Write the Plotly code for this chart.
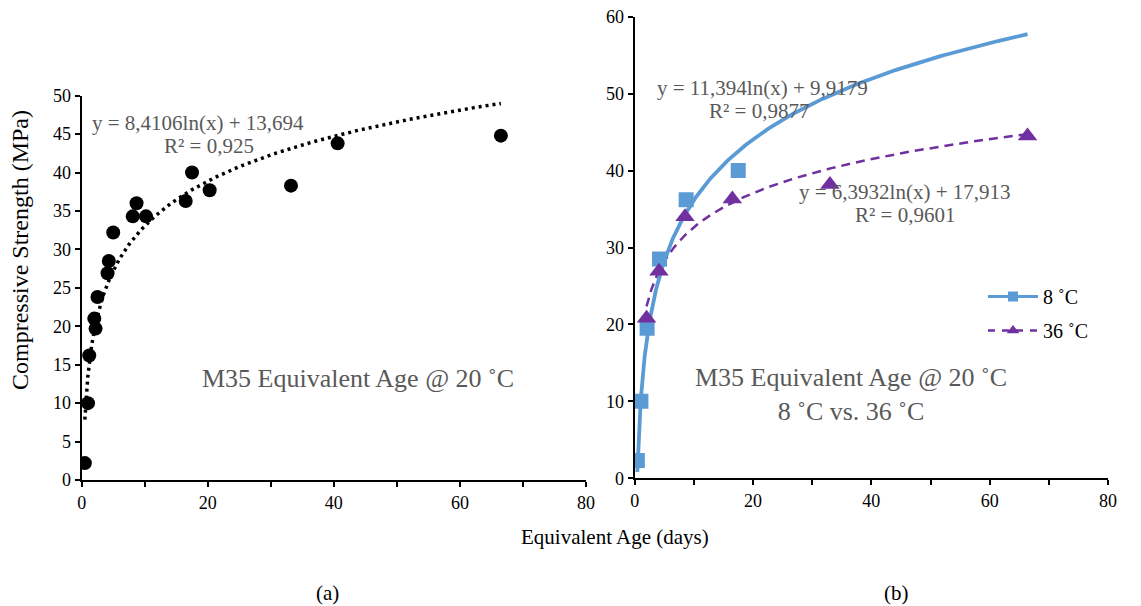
import numpy as np
import plotly.graph_objects as go

# ---------------- data ----------------
# (a) all specimens, equivalent age at 20 C
age_a = [0.5, 1.0, 1.2, 2.0, 2.2, 2.5, 4.1, 4.3, 5.0, 8.1, 8.7, 10.2, 16.5, 17.5, 20.3, 33.2, 40.6, 66.5]
strength_a = [2.2, 10.0, 16.2, 21.0, 19.7, 23.8, 26.9, 28.5, 32.2, 34.3, 36.0, 34.3, 36.3, 40.0, 37.7, 38.3, 43.8, 44.8]
trend_a = [8.4106, 13.694]      # y = a ln(x) + b
r2_a = "0,925"

# (b) 8 C and 36 C
age_8 = [0.45, 1.05, 2.1, 4.2, 8.7, 17.5]
strength_8 = [2.3, 10.0, 19.5, 28.5, 36.2, 40.0]
trend_8 = [11.394, 9.9179]
trend_8_end = 66.4
r2_8 = "0,9877"

age_36 = [2.0, 4.1, 8.5, 16.5, 33.0, 66.4]
strength_36 = [20.8, 26.9, 34.0, 36.3, 38.2, 44.5]
trend_36 = [6.3932, 17.913]
r2_36 = "0,9601"

x_ticks = [0, 20, 40, 60, 80]
y_ticks_a = list(range(0, 51, 5))
y_ticks_b = list(range(0, 61, 10))

# ---------------- styling ----------------
PAGE_W, PAGE_H, BODY_MARGIN = 1141, 606, 8
W, H = PAGE_W - BODY_MARGIN, PAGE_H - BODY_MARGIN
FONT = "Liberation Serif"
GRAY = "#595959"
BLUE = "#5B9BD5"
PURPLE = "#7030A0"


def px_x(p):
    return (p - BODY_MARGIN) / W


def px_y(p):
    return 1 - (p - BODY_MARGIN) / H


def log_curve(coef, x0, x1, n=300):
    xs = np.geomspace(x0, x1, n)
    return xs, coef[0] * np.log(xs) + coef[1]


def fmt(v):
    return str(v).replace(".", ",")


fig = go.Figure()

# (a) trendline
tx, ty = log_curve(trend_a, min(age_a), max(age_a))
fig.add_trace(go.Scatter(x=tx, y=ty, mode="lines", xaxis="x", yaxis="y",
                         line=dict(color="black", width=3.5, dash="3px,4px"),
                         showlegend=False, hoverinfo="skip"))
fig.add_trace(go.Scatter(x=age_a, y=strength_a, mode="markers", xaxis="x", yaxis="y",
                         marker=dict(color="black", size=14, symbol="circle"),
                         showlegend=False))

# (b) trendlines
tx8, ty8 = log_curve(trend_8, min(age_8), trend_8_end)
fig.add_trace(go.Scatter(x=tx8, y=ty8, mode="lines", xaxis="x2", yaxis="y2",
                         line=dict(color=BLUE, width=3.8),
                         showlegend=False, hoverinfo="skip"))
tx36, ty36 = log_curve(trend_36, min(age_36), max(age_36))
fig.add_trace(go.Scatter(x=tx36, y=ty36, mode="lines", xaxis="x2", yaxis="y2",
                         line=dict(color=PURPLE, width=2.5, dash="9px,6px"),
                         showlegend=False, hoverinfo="skip"))

# (b) markers
fig.add_trace(go.Scatter(x=age_8, y=strength_8, mode="markers", xaxis="x2", yaxis="y2",
                         name="8 ˚C",
                         marker=dict(color=BLUE, size=15, symbol="square"),
                         showlegend=False))
fig.add_trace(go.Scatter(x=age_36, y=strength_36, mode="markers", xaxis="x2", yaxis="y2",
                         name="36 ˚C",
                         marker=dict(color=PURPLE, size=17, symbol="triangle-up"),
                         showlegend=False))
# legend entries
fig.add_trace(go.Scatter(x=[None], y=[None], mode="lines+markers", xaxis="x2", yaxis="y2",
                         name="8 ˚C", legendgroup="g8", line=dict(color=BLUE, width=3),
                         marker=dict(color=BLUE, size=10, symbol="square")))
fig.add_trace(go.Scatter(x=[None], y=[None], mode="lines+markers", xaxis="x2", yaxis="y2",
                         name="36 ˚C", legendgroup="g36", line=dict(color=PURPLE, width=2.5, dash="7px,7px"),
                         marker=dict(color=PURPLE, size=11, symbol="triangle-up")))

axis_common = dict(showline=True, linecolor="black", linewidth=2, ticks="outside",
                   tickcolor="black", ticklen=5, tickwidth=1.5, showgrid=False, zeroline=False,
                   automargin=False, ticklabeloverflow="allow",
                   tickfont=dict(family=FONT, size=18, color="black"))
minor_ticks = dict(dtick=10, ticks="outside", ticklen=5, tickcolor="black", tickwidth=1.5)

fig.update_layout(
    width=W, height=H,
    margin=dict(l=0, r=0, t=0, b=0, pad=0, autoexpand=False),
    paper_bgcolor="white", plot_bgcolor="white",
    font=dict(family=FONT, color="black"),
    xaxis=dict(domain=[px_x(81.7), px_x(586)], range=[0, 80], tickvals=x_ticks,
               minor=minor_ticks, anchor="y", **axis_common),
    yaxis=dict(domain=[px_y(480), px_y(95.7)], range=[0, 50], tickvals=y_ticks_a,
               anchor="x", **axis_common),
    xaxis2=dict(domain=[px_x(634.7), px_x(1108)], range=[0, 80], tickvals=x_ticks,
                minor=minor_ticks, anchor="y2", **axis_common),
    yaxis2=dict(domain=[px_y(478.3), px_y(16.7)], range=[0, 60], tickvals=y_ticks_b,
                anchor="x2", **axis_common),
    legend=dict(x=px_x(983), y=px_y(277), xanchor="left", yanchor="top",
                bgcolor="rgba(0,0,0,0)", font=dict(family=FONT, size=20, color="black"),
                itemwidth=50, tracegroupgap=5),
)


def ann(text, x, y, size, color=GRAY, angle=0, xanchor="center"):
    fig.add_annotation(text=text, x=px_x(x), y=px_y(y), xref="paper", yref="paper",
                       showarrow=False, xanchor=xanchor, yanchor="middle", textangle=angle,
                       font=dict(family=FONT, size=size, color=color))


# equations
ann(f"y = {fmt(trend_a[0])}ln(x) + {fmt(trend_a[1])}", 198, 123, 21)
ann(f"R² = {r2_a}", 209, 146, 21)
ann(f"y = {fmt(trend_8[0])}ln(x) + {fmt(trend_8[1])}", 762, 88, 21)
ann(f"R² = {r2_8}", 759, 111, 21)
ann(f"y = {fmt(trend_36[0])}ln(x) + {fmt(trend_36[1])}", 905, 192, 21)
ann(f"R² = {r2_36}", 905, 215, 21)

# chart labels
ann("M35 Equivalent Age @ 20 ˚C", 358, 378, 26)
ann("M35 Equivalent Age @ 20 ˚C<br>8 ˚C vs. 36 ˚C", 851, 394, 26)

# axis titles
ann("Compressive Strength (MPa)", 20, 250, 24, color="black", angle=-90)
ann("Equivalent Age (days)", 615, 537, 21, color="black")

# panel labels
ann("(a)", 327, 593, 21, color="black")
ann("(b)", 896, 593, 21, color="black")

fig.write_html("out.html")
